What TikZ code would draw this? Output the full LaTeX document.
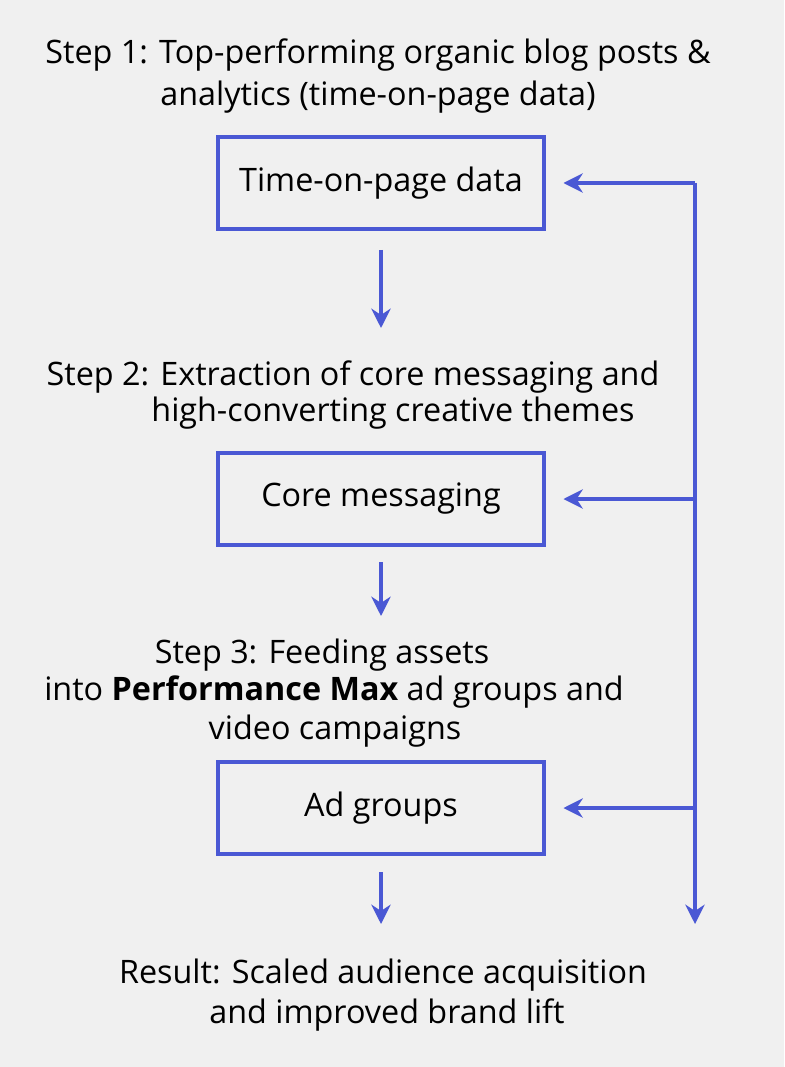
\documentclass[tikz,border=0pt]{standalone}
\usepackage{fontspec}
\setmainfont{Open Sans}
\usetikzlibrary{positioning,arrows.meta}
\definecolor{flowblue}{HTML}{4A58D4}
\definecolor{paper}{HTML}{F0F0F0}
\tikzset{
  stepbox/.style={draw=flowblue, line width=2.2pt, minimum width=6.52cm, minimum height=1.84cm, font=\fontsize{18.4}{22}\selectfont},
  steptext/.style={font=\fontsize{18.4}{22}\selectfont, inner sep=0pt},
  flow/.style={draw=flowblue, line width=2.2pt, -{Stealth[length=11pt,width=11pt]}},
  bus/.style={draw=flowblue, line width=2.2pt}
}
\begin{document}
\begin{tikzpicture}[x=0.02cm,y=-0.02cm]
  \fill[paper] (0,0) rectangle (784,1067);
  \useasboundingbox (0,0) rectangle (784,1067);

  % step 1
  \node[steptext] (s1a) at (378,55) {Step 1: Top-performing organic blog posts \&};
  \node[steptext] (s1b) at (378,97) {analytics (time-on-page data)};
  \node[stepbox] (time) at (381,183) {Time-on-page data};
  \coordinate (a1) at (381,250);
  \coordinate (b1) at (381,328);
  \draw[flow] (a1) -- (b1);

  % step 2
  \node[steptext] (s2a) at (353,377) {Step 2: Extraction of core messaging and};
  \node[steptext] (s2b) at (393,413) {high-converting creative themes};
  \node[stepbox] (core) at (381,499) {Core messaging};
  \coordinate (a2) at (381,562);
  \coordinate (b2) at (381,616);
  \draw[flow] (a2) -- (b2);

  % step 3
  \node[steptext] (s3a) at (322,655) {Step 3: Feeding assets};
  \node[steptext] (s3b) at (334,692) {into \textbf{Performance Max} ad groups and};
  \node[steptext] (s3c) at (335,731) {video campaigns};
  \node[stepbox] (ads) at (381,808) {Ad groups};
  \coordinate (a3) at (381,872);
  \coordinate (b3) at (381,924);
  \draw[flow] (a3) -- (b3);

  % result
  \node[steptext] (r1) at (383,975) {Result: Scaled audience acquisition};
  \node[steptext] (r2) at (387,1015) {and improved brand lift};

  % feedback bus
  \coordinate (top) at (695,183);
  \coordinate (mid) at (695,499);
  \coordinate (low) at (695,808);
  \coordinate (end) at (695,924);
  \draw[bus] (top) -- (low);
  \draw[flow] (low) -- (end);
  \draw[flow] (top) -- ([xshift=10]time.east);
  \draw[flow] (mid) -- ([xshift=10]core.east);
  \draw[flow] (low) -- ([xshift=10]ads.east);
\end{tikzpicture}
\end{document}
